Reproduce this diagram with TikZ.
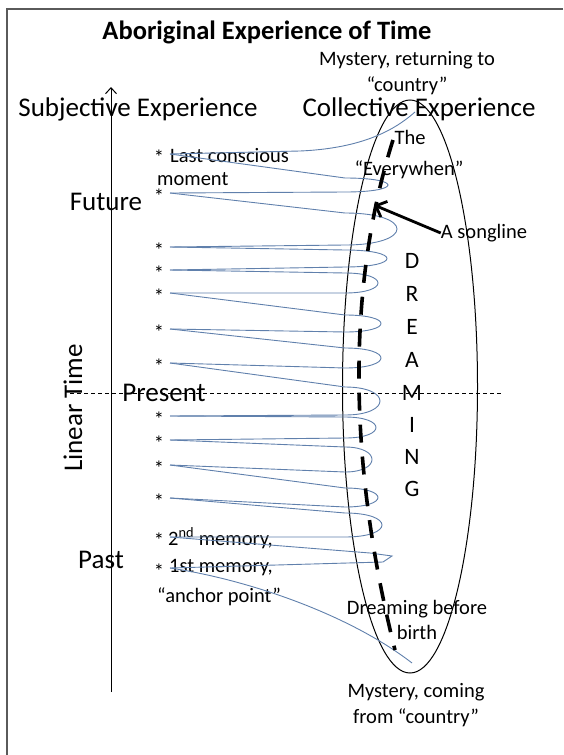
\documentclass[tikz,border=0pt]{standalone}
\usepackage{fontspec}
\setmainfont{Carlito}
\usetikzlibrary{arrows.meta}
\definecolor{spiralblue}{RGB}{96,128,172}
\definecolor{framegray}{RGB}{90,90,90}

\begin{document}
\begin{tikzpicture}[x=1pt, y=-1pt,
	frame/.style={draw=framegray, line width=1.4pt},
	titletext/.style={font=\fontsize{26.5}{30}\selectfont\bfseries, inner sep=0pt},
	bigtext/.style={font=\fontsize{27}{30}\selectfont, inner sep=0pt},
	smalltext/.style={font=\fontsize{20.5}{25.5}\selectfont, inner sep=0pt, align=center},
	letter/.style={font=\fontsize{23.5}{28}\selectfont, inner sep=0pt},
	asterisk/.style={font=\fontsize{20.5}{25}\selectfont, inner sep=0pt, anchor=base},
	spiral/.style={draw=spiralblue, line width=0.9pt},
	songpath/.style={draw=black, line width=3.6pt, dash pattern=on 18pt off 14pt},
	songarrow/.style={draw=black, line width=2.8pt, -{Straight Barb[length=9pt, width=17pt]}},
	timeaxis/.style={draw=black, line width=1pt, -{Straight Barb[length=6pt, width=11pt]}},
	presentline/.style={draw=black, line width=0.8pt, dash pattern=on 4pt off 3pt}]
	\useasboundingbox (0,0) rectangle (563,755);
	%Frame:
	\draw[frame] (563,9) -- (7,9) -- (7,755);
	%Headings:
	\path
		(267,32) node[titletext] (title) {Aboriginal Experience of Time}
		(407,73) node[smalltext] (mysterytop) {Mystery, returning to\\“country”}
		(138,109) node[bigtext] (subjective) {Subjective Experience}
		(419,109) node[bigtext] (collective) {Collective Experience};
	%Linear time axis:
	\coordinate (axisbot) at (111,692);
	\coordinate (axistop) at (111,87);
	\draw[timeaxis] (axisbot) -- (axistop);
	\path
		(73,408) node[bigtext, rotate=90] (lineartime) {Linear Time}
		(106,202) node[bigtext] (future) {Future}
		(164,393) node[bigtext] (present) {Present}
		(101,560) node[bigtext] (past) {Past};
	\coordinate (presentleft) at (70,393);
	\coordinate (presentright) at (502,393);
	\draw[presentline] (presentleft) -- (presentright);
	%Collective experience:
	\draw[line width=1pt] (410,386.5) ellipse [x radius=67.5pt, y radius=286.5pt];
	\path
		(410,137) node[smalltext] (the) {The}
		(409,170) node[smalltext] (everywhen) {“Everywhen”}
		(484,233) node[smalltext] (songlabel) {A songline}
		(417,620) node[smalltext] (beforebirth) {Dreaming before\\birth}
		(416,705) node[smalltext] (mysterybot) {Mystery, coming\\from “country”};
	\foreach \l/\y [count=\i] in {D/261, R/294, E/327, A/360, M/393, I/425, N/457, G/489}
		\node[letter] (dream\i) at (412,\y) {\l};
	%Memories:
	\foreach \k/\y in {1/154, 2/193, 3/247, 4/270, 5/293, 6/329, 7/363, 8/416, 9/440, 10/465, 11/498, 12/537, 13/568} {
		\node[asterisk] (s\k) at (159,\y+10) {*};
		\coordinate (a\k) at (170,\y);
	}
	\path
		(170,156) node[smalltext, anchor=west] (lastconscious) {Last conscious}
		(157,179) node[smalltext, anchor=west] (moment) {moment}
		(168,538) node[smalltext, anchor=west] (secondmemory) {2\textsuperscript{nd} memory,}
		(169,568) node[smalltext, anchor=west] (firstmemory) {1st memory,}
		(157,597) node[smalltext, anchor=west] (anchorpoint) {“anchor point”};
	%Spiral:
	\coordinate (ctop) at (415,112);
	\coordinate (cbot) at (412,663);
	\draw[spiral] (a1) -- (300,151) .. controls (370,148) and (400,125) .. (ctop);
	\foreach \k/\n/\yt/\yb/\rx in {1/2/178/192/388, 2/3/213/245/397, 3/4/250/267/387, 4/5/273/293/378,
			5/6/315/332/381, 6/7/348/368/381, 7/8/387/415/380, 8/9/417/438/376,
			9/10/447/472/372, 10/11/488/507/378, 11/12/513/537/382}
		\draw[spiral] (a\k) -- (345,\yt) .. controls ({345+(\rx-345)/0.75},\yt) and ({345+(\rx-345)/0.75},\yb) .. (345,\yb) -- (a\n);
	\draw[spiral] (a12) -- (370,553) -- (392,556) -- (383,562) -- (a13);
	\draw[spiral] (a13) .. controls (250,580) and (350,615) .. (cbot);
	%Songline:
	\coordinate (songtop) at (393,140);
	\coordinate (songbot) at (395,650);
	\coordinate (songtip) at (374,205);
	\draw[songpath] (songtop) .. controls (355,260) and (340,430) .. (songbot);
	\draw[songarrow] (songlabel.west) -- (songtip);
\end{tikzpicture}
\end{document}
